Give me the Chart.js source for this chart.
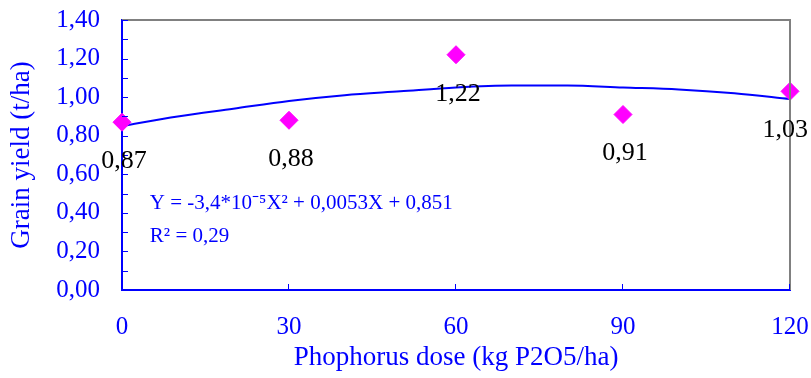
<!DOCTYPE html>
<html>
<head>
<meta charset="utf-8">
<script src="https://cdn.jsdelivr.net/npm/chart.js@4/dist/chart.umd.min.js"></script>
<style>
    html, body { margin: 0; padding: 0; background: #fff; }
    #wrap { position: relative; width: 811px; height: 378px; }
</style>
</head>
<body>
<div id="wrap"><canvas id="chart"></canvas></div>
<script>
//observed data (kg P2O5/ha vs t/ha)
const doses = [0, 30, 60, 90, 120];
const yields = [0.87, 0.88, 1.22, 0.91, 1.03];
const yieldLabels = ["0,87", "0,88", "1,22", "0,91", "1,03"];

//trend curve
const trendX = [0, 10, 20, 30, 40, 50, 60, 70, 80, 90, 100, 110, 120];
const trendY = [0.85, 0.90, 0.94, 0.98, 1.01, 1.03, 1.05, 1.06, 1.06, 1.05, 1.04, 1.02, 0.99];

const xTicks = [0, 30, 60, 90, 120];
const yTicks = [0, 0.2, 0.4, 0.6, 0.8, 1.0, 1.2, 1.4];

const equationText = "Y = -3,4*10\u207B\u2075X\u00B2 + 0,0053X + 0,851";
const r2Text = "R\u00B2 = 0,29";

const BLUE = "#0000ff";
const SERIF = "'Liberation Serif', 'Times New Roman', serif";

Chart.defaults.font.family = SERIF;
Chart.defaults.font.weight = "normal";

//draws the small inward ticks, the grey frame, point labels and the equation
const decorPlugin = {
    id: "decor",
    afterDatasetsDraw(chart) {
        const ctx = chart.ctx;
        const xs = chart.scales.x;
        const ys = chart.scales.y;
        const area = chart.chartArea;
        ctx.save();

        //grey top and right frame
        ctx.strokeStyle = "#808080";
        ctx.lineWidth = 2;
        ctx.beginPath();
        ctx.moveTo(area.left, area.top);
        ctx.lineTo(area.right, area.top);
        ctx.lineTo(area.right, area.bottom);
        ctx.stroke();

        //inward tick marks
        ctx.strokeStyle = BLUE;
        ctx.lineWidth = 1;
        ctx.beginPath();
        for (let v = 0.1; v <= 1.41; v += 0.1) {
            const py = Math.round(ys.getPixelForValue(v)) + 0.5;
            ctx.moveTo(area.left, py);
            ctx.lineTo(area.left + 6, py);
        }
        xTicks.slice(1).forEach(v => {
            const px = Math.round(xs.getPixelForValue(v)) - 0.5;
            ctx.moveTo(px, area.bottom);
            ctx.lineTo(px, area.bottom - 6);
        });
        ctx.stroke();

        //point value labels, kept inside the canvas
        ctx.fillStyle = "#000";
        ctx.font = "26px " + SERIF;
        ctx.textAlign = "center";
        ctx.textBaseline = "middle";
        doses.forEach((d, i) => {
            let px = xs.getPixelForValue(d) + 2;
            const py = ys.getPixelForValue(yields[i]);
            const half = ctx.measureText(yieldLabels[i]).width / 2;
            px = Math.min(px, chart.width - 3 - half);
            ctx.fillText(yieldLabels[i], px, py + 39);
        });

        //regression text
        ctx.fillStyle = BLUE;
        ctx.font = "21px " + SERIF;
        ctx.textAlign = "left";
        ctx.fillText(equationText, xs.getPixelForValue(5), ys.getPixelForValue(0.45));
        ctx.fillText(r2Text, xs.getPixelForValue(5), ys.getPixelForValue(0.28));

        ctx.restore();
    }
};

new Chart(document.getElementById("chart"), {
    type: "scatter",
    data: {
        datasets: [
            {
                label: "Yield",
                data: doses.map((d, i) => ({x: d, y: yields[i]})),
                pointStyle: "rectRot",
                pointRadius: 9,
                pointBackgroundColor: "#ff00ff",
                pointBorderColor: "#ff00ff",
                showLine: false,
                clip: false,
                order: 0
            },
            {
                label: "Trend",
                data: trendX.map((x, i) => ({x: x, y: trendY[i]})),
                showLine: true,
                borderColor: BLUE,
                borderWidth: 2,
                pointRadius: 0,
                cubicInterpolationMode: "monotone",
                order: 1
            }
        ]
    },
    options: {
        responsive: true,
        maintainAspectRatio: false,
        animation: false,
        layout: { padding: { top: 20, right: 21, left: 0, bottom: 0 } },
        plugins: {
            legend: { display: false },
            tooltip: { enabled: false }
        },
        scales: {
            x: {
                type: "linear",
                min: 0,
                max: 120,
                afterBuildTicks: axis => { axis.ticks = xTicks.map(v => ({value: v})); },
                afterFit: axis => {
                    axis.height = 88;
                    axis.paddingLeft = 0;
                    axis.paddingRight = 0;
                },
                grid: { display: false, drawTicks: false },
                border: { display: true, color: BLUE, width: 2 },
                ticks: {
                    color: BLUE,
                    font: { family: SERIF, size: 25 },
                    padding: 22,
                    maxRotation: 0
                },
                title: {
                    display: true,
                    text: "Phophorus dose (kg P2O5/ha)",
                    color: BLUE,
                    font: { family: SERIF, size: 27, weight: "normal" },
                    padding: { top: 0, bottom: 4 }
                }
            },
            y: {
                min: 0,
                max: 1.4,
                afterBuildTicks: axis => { axis.ticks = yTicks.map(v => ({value: v})); },
                afterFit: axis => {
                    axis.width = 122;
                    axis.paddingTop = 0;
                    axis.paddingBottom = 0;
                },
                grid: { display: false, drawTicks: false },
                border: { display: true, color: BLUE, width: 2 },
                ticks: {
                    color: BLUE,
                    font: { family: SERIF, size: 25 },
                    padding: 22,
                    callback: v => v.toFixed(2).replace(".", ",")
                },
                title: {
                    display: true,
                    text: "Grain yield (t/ha)",
                    color: BLUE,
                    font: { family: SERIF, size: 27, weight: "normal" },
                    padding: { top: 6, bottom: 0 }
                }
            }
        }
    },
    plugins: [decorPlugin]
});
</script>
</body>
</html>
